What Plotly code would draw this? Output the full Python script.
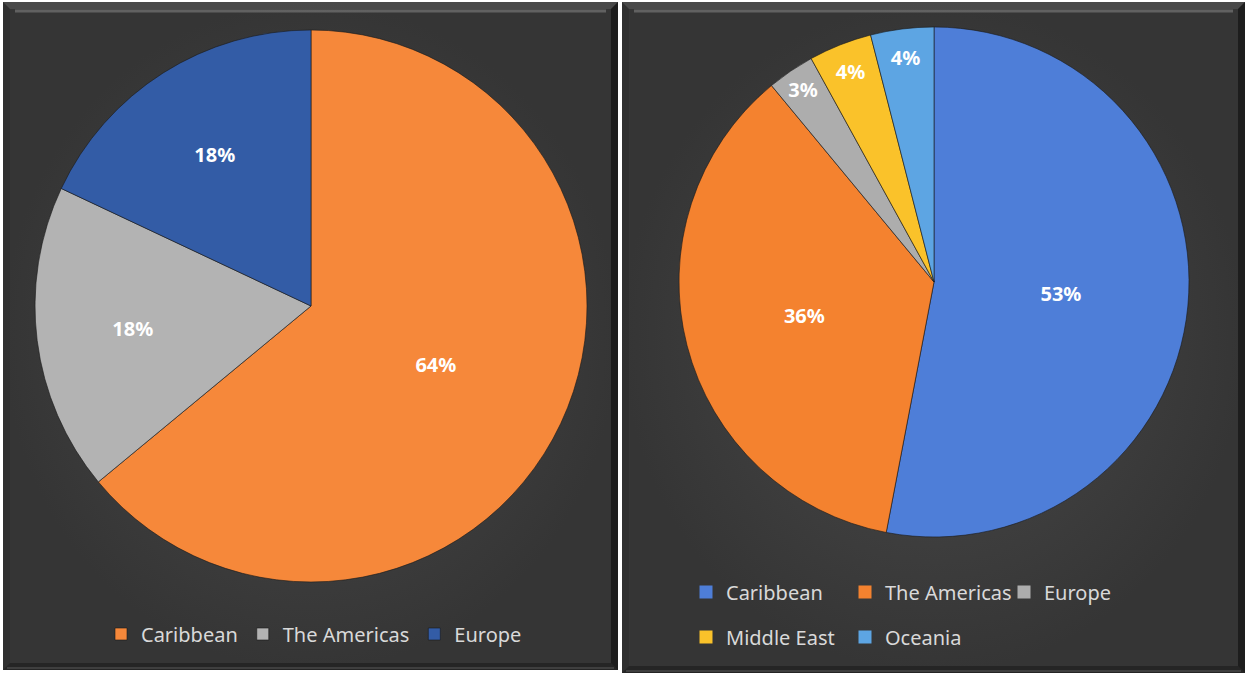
import plotly.graph_objects as go

W, H = 1245, 673

# left chart: share by region
left_labels = ["Caribbean", "The Americas", "Europe"]
left_values = [64, 18, 18]
left_colors = ["#F6883A", "#B3B3B3", "#335CA6"]

# right chart: share by region
right_labels = ["Caribbean", "The Americas", "Europe", "Middle East", "Oceania"]
right_values = [53, 36, 3, 4, 4]
right_colors = ["#4E7ED8", "#F4822F", "#ADADAD", "#FAC22A", "#5DA5E3"]

# panel boxes in pixels (x0, x1, y0, y1), y measured from top
panels = [(3, 618, 2, 670), (622, 1245, 2, 673)]


def dom(cx, cy, r):
    # pixel centre/radius -> pie domain (paper fractions)
    return dict(x=[(cx - r) / W, (cx + r) / W],
                y=[(H - cy - r) / H, (H - cy + r) / H])


fig = go.Figure()

# dark panel backgrounds with a soft radial gradient
for (x0, x1, y0, y1) in panels:
    fig.add_trace(go.Scatter(
        x=[x0, x1, x1, x0, x0], y=[y0, y0, y1, y1, y0],
        mode="lines", line=dict(width=0), fill="toself",
        fillgradient=dict(type="radial",
                          colorscale=[[0, "#4a4a4a"], [1, "#353535"]]),
        hoverinfo="skip", showlegend=False))

pie_text = dict(family="Noto Sans", size=20, color="white", weight="bold")
pie_line = dict(color="rgba(25,25,25,0.6)", width=1)

fig.add_trace(go.Pie(
    labels=left_labels, values=left_values,
    marker=dict(colors=left_colors, line=pie_line),
    sort=False, direction="clockwise", rotation=0,
    textinfo="percent", textposition="inside", insidetextorientation="horizontal",
    textfont=pie_text, domain=dom(311, 306, 276), legend="legend",
    hoverinfo="label+percent"))

fig.add_trace(go.Pie(
    labels=right_labels, values=right_values,
    marker=dict(colors=right_colors, line=pie_line),
    sort=False, direction="clockwise", rotation=0,
    textinfo="percent", textposition="inside", insidetextorientation="horizontal",
    textfont=pie_text, domain=dom(934, 282, 255), showlegend=False,
    hoverinfo="label+percent"))

# legend entries for the right chart, split over two rows
for i, lab in enumerate(right_labels):
    fig.add_trace(go.Scatter(
        x=[None], y=[None], mode="markers", name=lab,
        marker=dict(symbol="square", size=13, color=right_colors[i]),
        legend="legend2" if i < 3 else "legend3"))

# bevelled frame edges
shapes = []
b = 7
for (x0, x1, y0, y1) in panels:
    edges = [
        (f"M{x0},{y0} L{x1},{y0} L{x1-b},{y0+b} L{x0+b},{y0+b} Z", "rgba(255,255,255,0.10)"),
        (f"M{x0},{y0} L{x0+b},{y0+b} L{x0+b},{y1-b} L{x0},{y1} Z", "rgba(0,0,0,0.10)"),
        (f"M{x1},{y0} L{x1-b},{y0+b} L{x1-b},{y1-b} L{x1},{y1} Z", "rgba(0,0,0,0.45)"),
        (f"M{x0},{y1} L{x0+b},{y1-b} L{x1-b},{y1-b} L{x1},{y1} Z", "rgba(0,0,0,0.30)"),
    ]
    for p, c in edges:
        shapes.append(dict(type="path", path=p, xref="x", yref="y",
                           fillcolor=c, line=dict(width=0), layer="above"))
    # light highlight lines along the top and bottom
    shapes.append(dict(type="line", x0=x0 + 12, x1=x1 - 12, y0=y0 + 9, y1=y0 + 9,
                       xref="x", yref="y", layer="above",
                       line=dict(color="rgba(255,255,255,0.22)", width=3)))
    shapes.append(dict(type="line", x0=x0 + 4, x1=x1 - 4, y0=y1 - 2, y1=y1 - 2,
                       xref="x", yref="y", layer="above",
                       line=dict(color="rgba(255,255,255,0.12)", width=2)))

legend_font = dict(family="Noto Sans", size=20, color="#D9D9D9")

fig.update_layout(
    width=W, height=H,
    margin=dict(l=0, r=0, t=0, b=0),
    paper_bgcolor="white", plot_bgcolor="white",
    xaxis=dict(visible=False, range=[0, W], fixedrange=True),
    yaxis=dict(visible=False, range=[H, 0], fixedrange=True),
    shapes=shapes,
    legend=dict(orientation="h", x=314 / W, xanchor="center", y=1 - 634 / H,
                yanchor="middle", font=legend_font, bgcolor="rgba(0,0,0,0)"),
    legend2=dict(orientation="h", x=686 / W, xanchor="left", y=1 - 592 / H,
                 yanchor="middle", font=legend_font, bgcolor="rgba(0,0,0,0)",
                 entrywidth=114),
    legend3=dict(orientation="h", x=686 / W, xanchor="left", y=1 - 637 / H,
                 yanchor="middle", font=legend_font, bgcolor="rgba(0,0,0,0)",
                 entrywidth=114),
    showlegend=True,
)

fig.write_html("out.html", config={"displayModeBar": False},
               post_script="document.body.style.margin='0';")
